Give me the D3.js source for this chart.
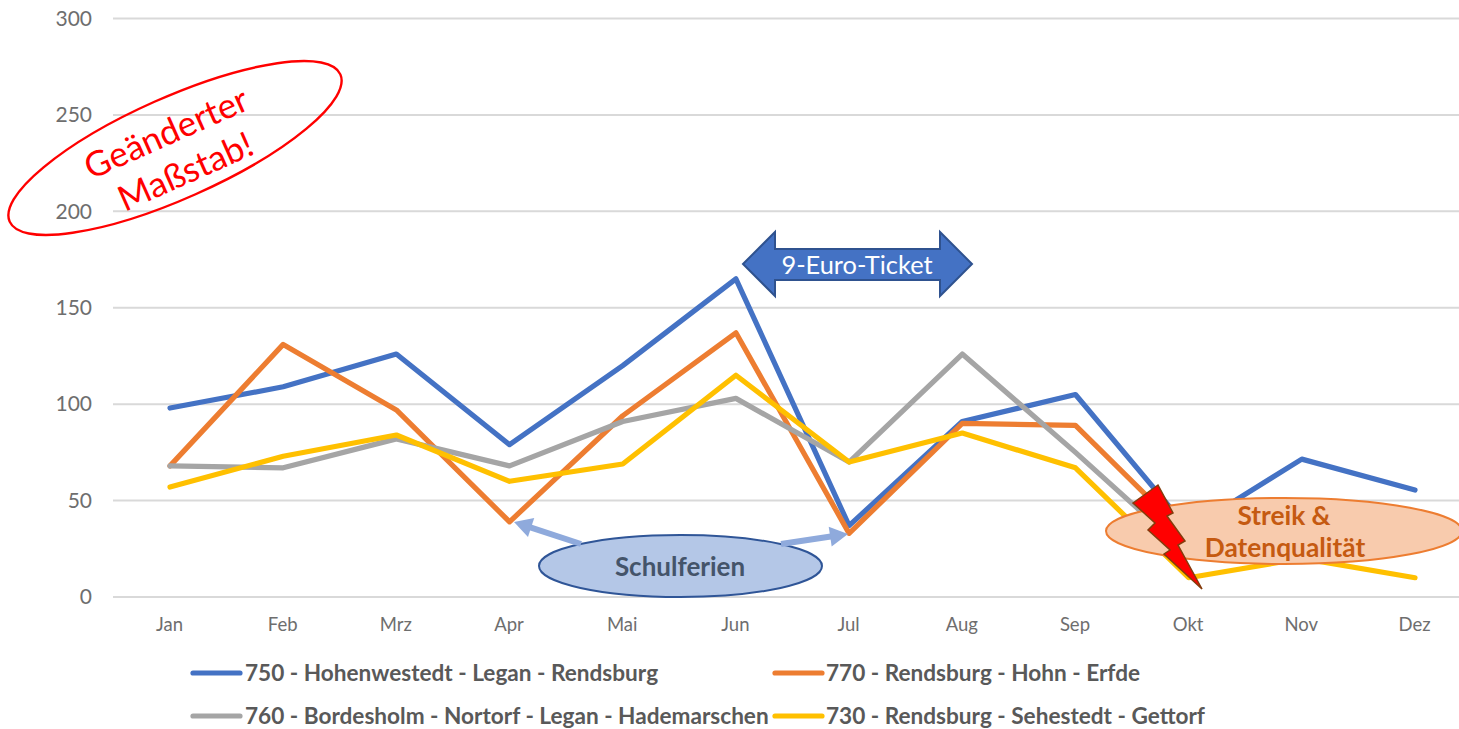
<!DOCTYPE html>
<html lang="de">
<head>
<meta charset="utf-8">
<script src="https://cdn.jsdelivr.net/npm/d3@7"></script>
<style>
html,body{margin:0;padding:0;background:#fff;overflow:hidden}
svg{display:block}
text{font-family:Lato,"Open Sans",sans-serif}
.axis path,.axis line{display:none}
.axis text{fill:#6e6e6e}
</style>
</head>
<body>
<svg id="chart" width="1459" height="729"></svg>
<script>
const months = ["Jan","Feb","Mrz","Apr","Mai","Jun","Jul","Aug","Sep","Okt","Nov","Dez"];
const yTicks = [0,50,100,150,200,250,300];
const line750 = [98,109,126,79,120,165,37,91,105,35,71.5,55.5];
const line770 = [68,131,97,39,94,137,33,90,89,31,null,null];
const line760 = [68,67,82,68,91,103,70,126,75,22,null,null];
const line730 = [57,73,84,60,69,115,70,85,67,10,20,10];
const seriesNames = ["750 - Hohenwestedt - Legan - Rendsburg","770 - Rendsburg - Hohn - Erfde","760 - Bordesholm - Nortorf - Legan - Hademarschen","730 - Rendsburg - Sehestedt - Gettorf"];
const seriesValues = [line750,line770,line760,line730];
const seriesColors = ["#4472C4","#ED7D31","#A5A5A5","#FFC000"];

const svg = d3.select("#chart");
const x = d3.scalePoint().domain(months).range([170,1415]);
const y = d3.scaleLinear().domain([0,300]).range([597,18.5]);

// gridlines
svg.append("g").selectAll("line").data(yTicks).join("line")
  .attr("x1",113).attr("x2",1459)
  .attr("y1",d=>y(d)).attr("y2",d=>y(d))
  .attr("stroke","#D9D9D9").attr("stroke-width",2);

// axes
svg.append("g").attr("class","axis").attr("transform","translate(92,0)")
  .call(d3.axisLeft(y).tickValues(yTicks).tickSize(0).tickPadding(0))
  .call(g=>g.selectAll("text").attr("font-size",21).attr("text-anchor","end"));
svg.append("g").attr("class","axis").attr("transform","translate(-1,618)")
  .call(d3.axisBottom(x).tickSize(0).tickPadding(0))
  .call(g=>g.selectAll("text").attr("font-size",18.5));

// series
const lineGen = d3.line().defined(d=>d!==null).x((d,i)=>x(months[i])).y(d=>y(d));
svg.append("g").selectAll("path").data(seriesValues).join("path")
  .attr("d",d=>lineGen(d))
  .attr("fill","none")
  .attr("stroke",(d,i)=>seriesColors[i])
  .attr("stroke-width",5.2)
  .attr("stroke-linejoin","round")
  .attr("stroke-linecap","round");

// legend
const legendPos = [[193,673],[775,673],[193,716],[775,716]];
const legend = svg.append("g").selectAll("g").data(seriesNames).join("g")
  .attr("transform",(d,i)=>`translate(${legendPos[i][0]},${legendPos[i][1]})`);
legend.append("line").attr("x1",0).attr("x2",47).attr("y1",0).attr("y2",0)
  .attr("stroke",(d,i)=>seriesColors[i]).attr("stroke-width",5.2).attr("stroke-linecap","round");
legend.append("text").attr("x",(d,i)=>i%2?51:52).attr("y",8)
  .attr("font-size",22.6).attr("font-weight",700).attr("fill","#595959").text(d=>d);

// annotation: changed scale
const scale = svg.append("g").attr("transform","translate(175,148) rotate(-24)");
scale.append("ellipse").attr("rx",181).attr("ry",50.6)
  .attr("fill","none").attr("stroke","#FF0000").attr("stroke-width",2.4);
scale.append("text").attr("text-anchor","middle").attr("x",-2).attr("y",-5).attr("font-size",35).attr("fill","#FF0000").text("Geänderter");
scale.append("text").attr("text-anchor","middle").attr("y",38).attr("font-size",35).attr("fill","#FF0000").text("Maßstab!");

// annotation: 9-Euro-Ticket
svg.append("polygon")
  .attr("points","743,264 775,232 775,249 940,249 940,232 972,264 940,296 940,280 775,280 775,296")
  .attr("fill","#4472C4").attr("stroke","#2F528F").attr("stroke-width",2);
svg.append("text").attr("x",857).attr("y",274).attr("text-anchor","middle")
  .attr("font-size",25.4).attr("fill","#fff").text("9-Euro-Ticket");

// annotation: school holidays
const arrowColor = "#8FAADC";
function arrow(x1,y1,x2,y2){
  const a=Math.atan2(y2-y1,x2-x1),L=Math.hypot(x2-x1,y2-y1);
  const g=svg.append("g").attr("transform",`translate(${x1},${y1}) rotate(${a*180/Math.PI})`);
  g.append("line").attr("x1",0).attr("x2",L-14).attr("y1",0).attr("y2",0).attr("stroke",arrowColor).attr("stroke-width",6);
  g.append("polygon").attr("points",`${L},0 ${L-18},-10 ${L-18},10`).attr("fill",arrowColor);
}
svg.append("ellipse").attr("cx",680.5).attr("cy",566).attr("rx",141.5).attr("ry",31)
  .attr("fill","#B4C7E7").attr("stroke","#2F5597").attr("stroke-width",2);
arrow(581,544,514,522);
arrow(781,544,848,534);
svg.append("text").attr("x",680).attr("y",576).attr("text-anchor","middle")
  .attr("font-size",26).attr("font-weight",700).attr("fill","#44546A").text("Schulferien");

// annotation: strike and data quality
svg.append("ellipse").attr("cx",1284).attr("cy",531).attr("rx",178).attr("ry",33)
  .attr("fill","#F8CBAD").attr("stroke","#ED7D31").attr("stroke-width",2);
svg.append("text").attr("x",1284).attr("y",525).attr("text-anchor","middle")
  .attr("font-size",26.3).attr("font-weight",700).attr("fill","#C55A11").text("Streik &");
svg.append("text").attr("x",1285).attr("y",557).attr("text-anchor","middle")
  .attr("font-size",26.3).attr("font-weight",700).attr("fill","#C55A11").text("Datenqualität");
svg.append("polygon")
  .attr("points","1158,485 1173,513 1167,516 1185,541 1178,545 1202,589 1164,554 1170,550 1148,530 1155,523 1133,503")
  .attr("fill","#FF0000").attr("stroke","#843C0C").attr("stroke-width",1.5);
</script>
</body>
</html>
